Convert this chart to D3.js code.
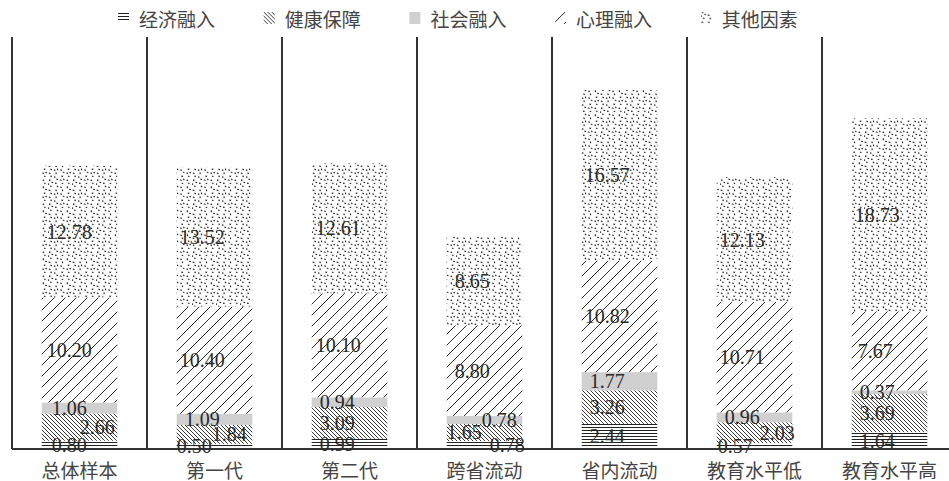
<!DOCTYPE html>
<html>
<head>
<meta charset="utf-8">
<script src="https://cdn.jsdelivr.net/npm/d3@7/dist/d3.min.js"></script>
<style>
  html, body { margin: 0; padding: 0; background: #fff; }
  svg { display: block; }
</style>
</head>
<body>
<script>
// ---- data ----
const categories = ["总体样本", "第一代", "第二代", "跨省流动", "省内流动", "教育水平低", "教育水平高"];
const seriesNames = ["经济融入", "健康保障", "社会融入", "心理融入", "其他因素"];
const econ   = [0.80, 0.50, 0.99, 0.78, 2.44, 0.57, 1.64];
const health = [2.66, 1.84, 3.09, 1.65, 3.26, 2.03, 3.69];
const social = [1.06, 1.09, 0.94, 0.78, 1.77, 0.96, 0.37];
const psych  = [10.20, 10.40, 10.10, 8.80, 10.82, 10.71, 7.67];
const other  = [12.78, 13.52, 12.61, 8.65, 16.57, 12.13, 18.73];
const yDomain = [0, 40];

// ---- layout (label x offsets from bar left; econ, health, social, psych, other) ----
const labelOffsets = [
  [10, 38, 10, 5, 5],
  [0, 35, 8, 3, 3],
  [8, 8, 8, 4, 4],
  [43, 0, 35, 8, 8],
  [8, 8, 8, 3, 3],
  [1, 43, 8, 3, 3],
  [8, 8, 8, 6, 3]
];

const W = 949, H = 481;
const seriesKeys = ["econ", "health", "social", "psych", "other"];
const seriesData = [econ, health, social, psych, other];
const table = categories.map((c, i) => {
  const row = { cat: c, idx: i };
  seriesKeys.forEach((k, j) => row[k] = seriesData[j][i]);
  return row;
});

const svg = d3.select("body").append("svg").attr("width", W).attr("height", H);

// ---- patterns ----
const defs = svg.append("defs");
const pEcon = defs.append("pattern").attr("id", "p-econ").attr("patternUnits", "userSpaceOnUse")
  .attr("width", 10).attr("height", 3);
pEcon.append("rect").attr("width", 10).attr("height", 3).attr("fill", "#fff");
pEcon.append("line").attr("x1", 0).attr("x2", 10).attr("y1", 1.5).attr("y2", 1.5)
  .attr("stroke", "#222").attr("stroke-width", 1);

const pHealth = defs.append("pattern").attr("id", "p-health").attr("patternUnits", "userSpaceOnUse")
  .attr("width", 4).attr("height", 4);
pHealth.append("rect").attr("width", 4).attr("height", 4).attr("fill", "#fff");
pHealth.append("path").attr("d", "M-1,-1 L5,5 M-1,3 L1,5 M3,-1 L5,1")
  .attr("stroke", "#222").attr("stroke-width", 0.9).attr("fill", "none");

const pPsych = defs.append("pattern").attr("id", "p-psych").attr("patternUnits", "userSpaceOnUse")
  .attr("width", 11).attr("height", 11);
pPsych.append("rect").attr("width", 11).attr("height", 11).attr("fill", "#fff");
pPsych.append("path").attr("d", "M0,11 L11,0 M-1,1 L1,-1 M10,12 L12,10")
  .attr("stroke", "#111").attr("stroke-width", 0.9).attr("fill", "none");

const tile = 24;
const pOther = defs.append("pattern").attr("id", "p-other").attr("patternUnits", "userSpaceOnUse")
  .attr("width", tile).attr("height", tile);
pOther.append("rect").attr("width", tile).attr("height", tile).attr("fill", "#fff");
// quasi-uniform stipple (R2 low-discrepancy sequence), texture only
const g = 1.32471795724, a1 = 1 / g, a2 = 1 / (g * g);
const dots = d3.range(32).map(i => ({
  x: ((0.5 + a1 * i) % 1) * tile,
  y: ((0.5 + a2 * i) % 1) * tile,
  o: i % 3
}));
pOther.selectAll("line").data(dots).join("line")
  .attr("x1", d => d.x).attr("y1", d => d.y)
  .attr("x2", d => d.x + (d.o === 0 ? 1.6 : d.o === 1 ? 1.1 : 0.3))
  .attr("y2", d => d.y + (d.o === 0 ? 0.3 : d.o === 1 ? 1.1 : 1.6))
  .attr("stroke", "#222").attr("stroke-width", 1.2);

const fills = ["url(#p-econ)", "url(#p-health)", "#d0d0d0", "url(#p-psych)", "url(#p-other)"];

// ---- scales ----
const x = d3.scaleBand().domain(categories).range([12, 957]).paddingInner(0.44).paddingOuter(0.22);
const y = d3.scaleLinear().domain(yDomain).range([449, 37]);

const stack = d3.stack().keys(seriesKeys);
const stacked = stack(table);

// ---- bars ----
const layers = svg.append("g").selectAll("g").data(stacked).join("g")
  .attr("fill", (d, i) => fills[i]);
layers.selectAll("rect").data(d => d).join("rect")
  .attr("x", d => x(d.data.cat))
  .attr("width", x.bandwidth())
  .attr("y", d => y(d[1]))
  .attr("height", d => y(d[0]) - y(d[1]));

// ---- separators / axis frame ----
const step = x.step();
const x0 = x.range()[0];
svg.append("g").selectAll("line").data(d3.range(categories.length)).join("line")
  .attr("x1", i => x0 + i * step).attr("x2", i => x0 + i * step)
  .attr("y1", y(yDomain[1])).attr("y2", y(0))
  .attr("stroke", "#333").attr("stroke-width", 2);
svg.append("line").attr("x1", x0).attr("x2", W).attr("y1", y(0)).attr("y2", y(0))
  .attr("stroke", "#333").attr("stroke-width", 2);

// ---- value labels ----
const labelG = svg.append("g").attr("font-family", "'Liberation Serif', 'DejaVu Serif', serif")
  .attr("font-size", 20).attr("fill", "#2a2a2a");
stacked.forEach((layer, j) => {
  labelG.selectAll(null).data(layer).join("text")
    .attr("x", d => x(d.data.cat) + labelOffsets[d.data.idx][j])
    .attr("y", d => (y(d[0]) + y(d[1])) / 2)
    .attr("dominant-baseline", "central")
    .text(d => d.data[seriesKeys[j]].toFixed(2));
});

// ---- category axis labels ----
svg.append("g").selectAll("text").data(categories).join("text")
  .attr("x", d => x(d) + x.bandwidth() / 2)
  .attr("y", 469)
  .attr("text-anchor", "middle")
  .attr("dominant-baseline", "central")
  .attr("font-family", "'Noto Sans CJK SC', sans-serif")
  .attr("font-size", 19)
  .attr("fill", "#444")
  .text(d => d);

// ---- legend ----
const legendStart = 118, legendStep = 145.7;
const leg = svg.append("g").selectAll("g").data(seriesNames).join("g")
  .attr("transform", (d, i) => `translate(${legendStart + i * legendStep},0)`);
leg.append("rect").attr("x", 0).attr("y", (d, i) => i === 0 ? 12 : 12)
  .attr("width", 11).attr("height", (d, i) => i === 0 ? 9 : 12)
  .attr("fill", (d, i) => fills[i]);
leg.append("text").attr("x", 21).attr("y", 18)
  .attr("dominant-baseline", "central")
  .attr("font-family", "'Noto Sans CJK SC', sans-serif")
  .attr("font-size", 19).attr("fill", "#444")
  .text(d => d);
</script>
</body>
</html>
